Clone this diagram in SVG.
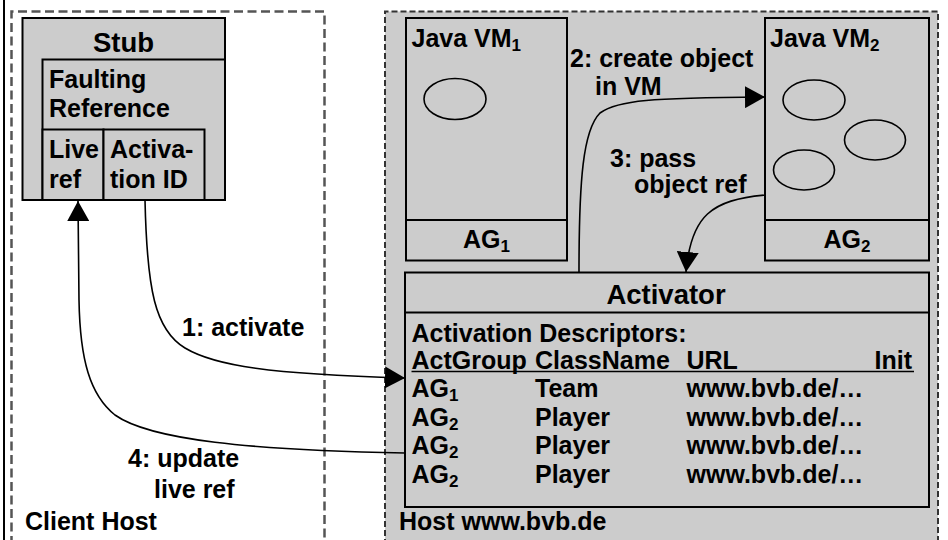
<svg xmlns="http://www.w3.org/2000/svg" width="948" height="540" viewBox="0 0 948 540">
<defs>
<style>
.t{font-family:"Liberation Sans",Arial,sans-serif;font-weight:bold;font-size:25px;fill:#000}
.title{font-size:27.5px}
.box{fill:#cccccc;stroke:#000;stroke-width:2}
.ln{fill:none;stroke:#000;stroke-width:2}
.ell{fill:none;stroke:#000;stroke-width:1.6}
.con{fill:none;stroke:#000;stroke-width:1.6}
.sub{font-size:17px}
</style>
<marker id="ah" markerWidth="20" markerHeight="22" viewBox="0 0 20 22" refX="20" refY="11" orient="auto" markerUnits="userSpaceOnUse">
<path d="M0,0 L20,11 L0,22 Z" fill="#000"/>
</marker>
</defs>
<rect width="948" height="540" fill="#fff"/>
<line x1="4" y1="0" x2="4" y2="540" stroke="#000" stroke-width="2"/>
<g id="client-host">
<path d="M11.5,545 L11.5,11.5 L324.5,11.5 L324.5,545" fill="none" stroke="#555" stroke-width="2.5" stroke-dasharray="9 4.5"/>
<text class="t" x="25" y="530">Client Host</text>
</g>
<g id="host">
<path d="M385,545 L385,11.5 L938,11.5 L938,545" fill="#cccccc" stroke="#333" stroke-width="2" stroke-dasharray="6 3"/>
<text class="t" x="399" y="530">Host www.bvb.de</text>
</g>
<g id="stub">
<rect class="box" x="22.5" y="18" width="202.5" height="182"/>
<text class="t title" x="123.5" y="52" text-anchor="middle">Stub</text>
<rect class="box" x="42.5" y="59.5" width="182.5" height="140.5"/>
<text class="t" x="49" y="88">Faulting</text>
<text class="t" x="49" y="117">Reference</text>
</g>
<g id="live-ref">
<rect class="box" x="42.5" y="129.5" width="61" height="70.5"/>
<text class="t" x="49" y="158">Live</text>
<text class="t" x="49" y="188">ref</text>
</g>
<g id="activation-id">
<rect class="box" x="103.5" y="129.5" width="101" height="70.5"/>
<text class="t" x="110" y="158">Activa-</text>
<text class="t" x="110" y="188">tion ID</text>
</g>
<g id="vm1">
<rect class="box" x="406" y="18" width="161" height="242.5"/>
<line class="ln" x1="406" y1="220" x2="567" y2="220"/>
<text class="t" x="411.5" y="47">Java VM<tspan class="sub" dy="4">1</tspan></text>
<ellipse class="ell" cx="455" cy="99" rx="31" ry="20.5"/>
<text class="t" x="486.5" y="248" text-anchor="middle">AG<tspan class="sub" dy="4">1</tspan></text>
</g>
<g id="vm2">
<rect class="box" x="765" y="18" width="164" height="242.5"/>
<line class="ln" x1="765" y1="220" x2="929" y2="220"/>
<text class="t" x="770" y="47">Java VM<tspan class="sub" dy="4">2</tspan></text>
<ellipse class="ell" cx="814" cy="100" rx="31" ry="20"/>
<ellipse class="ell" cx="875" cy="140" rx="30.5" ry="20"/>
<ellipse class="ell" cx="804" cy="170" rx="30.5" ry="20"/>
<text class="t" x="847" y="248" text-anchor="middle">AG<tspan class="sub" dy="4">2</tspan></text>
</g>
<g id="activator">
<rect class="box" x="405" y="272.5" width="524" height="234.5"/>
<line class="ln" x1="405" y1="312.5" x2="929" y2="312.5"/>
<text class="t title" x="666" y="304" text-anchor="middle">Activator</text>
<text class="t" x="411.5" y="342">Activation Descriptors:</text>
<text class="t" x="411.5" y="369">ActGroup</text>
<text class="t" x="535" y="369">ClassName</text>
<text class="t" x="686.5" y="369">URL</text>
<text class="t" x="874.5" y="369">Init</text>
<line x1="411.5" y1="371.5" x2="914" y2="371.5" stroke="#000" stroke-width="1.6"/>
<text class="t" x="411.5" y="397">AG<tspan class="sub" dy="4">1</tspan></text>
<text class="t" x="535" y="397">Team</text>
<text class="t" x="686.5" y="397">www.bvb.de/…</text>
<text class="t" x="411.5" y="426">AG<tspan class="sub" dy="4">2</tspan></text>
<text class="t" x="535" y="426">Player</text>
<text class="t" x="686.5" y="426">www.bvb.de/…</text>
<text class="t" x="411.5" y="454">AG<tspan class="sub" dy="4">2</tspan></text>
<text class="t" x="535" y="454">Player</text>
<text class="t" x="686.5" y="454">www.bvb.de/…</text>
<text class="t" x="411.5" y="483">AG<tspan class="sub" dy="4">2</tspan></text>
<text class="t" x="535" y="483">Player</text>
<text class="t" x="686.5" y="483">www.bvb.de/…</text>
</g>
<g id="connectors">
<path class="con" d="M145,200 C147,290 155,330 185,348 C215,366 270,374 405,378" marker-end="url(#ah)"/>
<path class="con" d="M405,453 C250,450 150,440 115,415 C90,395 80,360 79,300 L78,201" marker-end="url(#ah)"/>
<path class="con" d="M579,272 C579,180 583,130 600,113 C618,100 650,98 765,97" marker-end="url(#ah)"/>
<path class="con" d="M765,195 C712,200 691,215 686,272" marker-end="url(#ah)"/>
<text class="t" x="182" y="336">1: activate</text>
<text class="t" x="570" y="67">2: create object</text>
<text class="t" x="595" y="95">in VM</text>
<text class="t" x="610" y="167">3: pass</text>
<text class="t" x="634" y="193">object ref</text>
<text class="t" x="128" y="467">4: update</text>
<text class="t" x="154" y="498">live ref</text>
</g>
</svg>
